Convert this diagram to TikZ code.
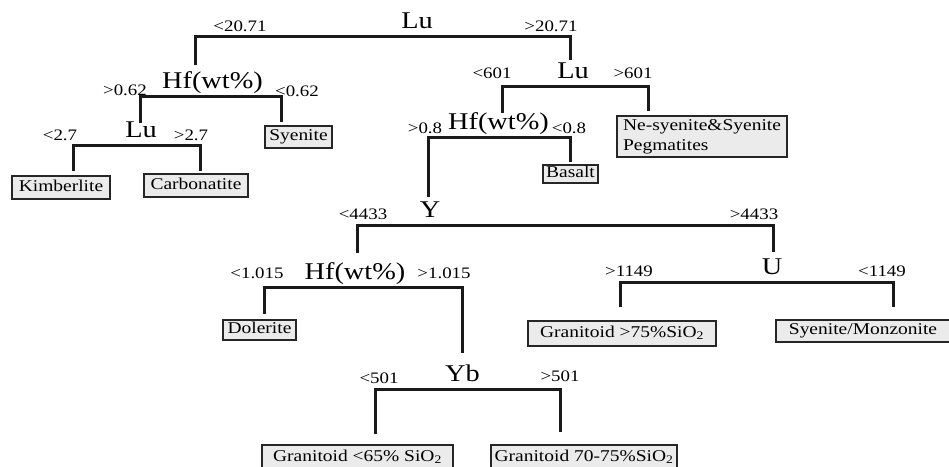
\documentclass[tikz,border=0pt]{standalone}
\usepackage{fontspec}
\setmainfont{Liberation Serif}[FakeStretch=1.18]
\definecolor{boxgray}{HTML}{EBEBEB}
\definecolor{linegray}{HTML}{1A1A1A}
\begin{document}
	\begin{tikzpicture}[x=1pt,y=-1pt,
		split/.style={anchor=south,inner sep=0pt,text height=22pt,text depth=7pt,font=\fontsize{24}{24}\selectfont},
		cond/.style={anchor=base,inner sep=0pt,font=\fontsize{16}{16}\selectfont},
		leaf/.style={draw=black!85,line width=1.1pt,fill=boxgray,inner sep=0pt,font=\fontsize{16.5}{20}\selectfont},
		branch/.style={draw=linegray,line width=3pt}]
		\path[use as bounding box,clip] (0,0) rectangle (949,466);
		\foreach \n/\x/\y/\t in {lu1/417/36/Lu,hf1/212.5/96/Hf(wt\%),lu2/141/145/Lu,lumid/573/86/Lu,hfmid/498.5/137/Hf(wt\%),ysplit/430/225/Y,hf3/355/287/Hf(wt\%),usplit/772/282/U,yb/462.5/389/Yb}
			\node[split] (\n) at (\x,\y) {\t};
		\foreach \t/\x/\y [count=\i] in {<20.71/240/31,>20.71/551/31,>0.62/125/95,<0.62/297/96,<2.7/60/140,>2.7/191/140,<601/492/78,>601/633/78,>0.8/425/133,<0.8/569/133,<4433/363/219,>4433/754/219,<1.015/257/278,>1.015/444/278,>1149/629/276,<1149/882/276,<501/379/383,>501/560/381}
			\node[cond] (c\i) at (\x,\y) {\t};
		\foreach \n/\x/\y/\w/\h/\t in {kimb/61/187.5/98/23/Kimberlite,carb/196/185.5/104/23/Carbonatite,sye/298.5/137/67/22/Syenite,bas/570.5/174/55/18/Basalt,dol/259.5/330/73/20/Dolerite,gr75/622/333.5/188/25/{Granitoid >75\%SiO\textsubscript{2}},symo/863/331/174/22/{Syenite/Monzonite},gr65/357.5/457.5/191/25/{Granitoid <65\% SiO\textsubscript{2}},gr70/584/457.5/186/25/{Granitoid 70-75\%SiO\textsubscript{2}}}
			\node[leaf,text height=11pt,text depth=3.5pt,minimum width=\w pt,minimum height=\h pt] (\n) at (\x,\y) {\t};
		\node[leaf,align=left,minimum width=170pt,minimum height=41pt] (nesye) at (702,136.5) {Ne-syenite\&Syenite\\Pegmatites};
		\foreach \l/\lx/\ly/\p/\r/\rx/\ry in {hf1/-17.5/2/lu1/lumid/-3/-3,lu2/-1/-7/hf1/sye/-17.5/3,kimb/12/4/lu2/carb/4/2,hfmid/3.5/-5/lumid/nesye/-54/4,ysplit/-2/-1/hfmid/bas/0/2,hf3/2/5/ysplit/usplit/1/1,dol/4.5/5/hf3/yb/-0.5/7,gr75/-2/13/usplit/symo/30/12,gr65/17.5/10/yb/gr70/-24/12}
			\draw[branch] ([xshift=\lx pt,yshift=\ly pt]\l.north) |- (\p.south) -| ([xshift=\rx pt,yshift=\ry pt]\r.north);
	\end{tikzpicture}
\end{document}
